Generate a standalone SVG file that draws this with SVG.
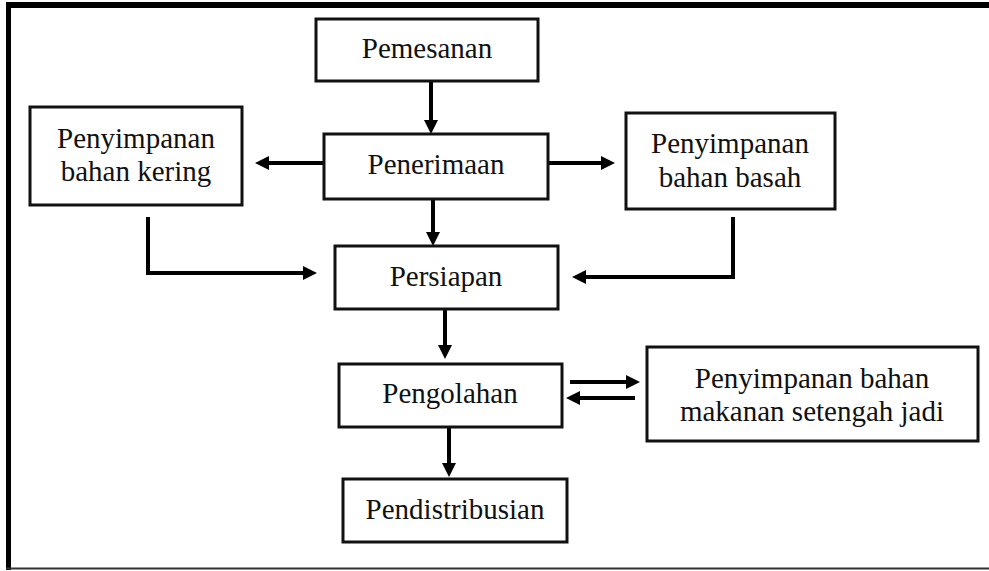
<svg xmlns="http://www.w3.org/2000/svg" width="989" height="571" viewBox="0 0 989 571">
<style>
.box{fill:#fff;stroke:#111;stroke-width:3}
.t{font-family:"Liberation Serif","Times New Roman",serif;font-size:29px;fill:#111;text-anchor:middle}
.c{fill:none;stroke:#000;stroke-width:4}
</style>
<defs>
<marker id="ah" viewBox="0 0 14 14" refX="0" refY="7" markerWidth="14" markerHeight="14" markerUnits="userSpaceOnUse" orient="auto">
<path d="M0,0 L14,7 L0,14 z" fill="#000"/>
</marker>
</defs>
<rect width="989" height="571" fill="#fff"/>
<g id="frame">
<rect x="6" y="2" width="983" height="6" fill="#000"/>
<rect x="6" y="2" width="5" height="568" fill="#000"/>
<line x1="6" y1="568.5" x2="989" y2="568.5" stroke="#333" stroke-width="2"/>
</g>
<g id="connectors">
<path class="c" d="M431 81 V120" marker-end="url(#ah)"/>
<path class="c" d="M324 163 H269" marker-end="url(#ah)"/>
<path class="c" d="M548 163 H601" marker-end="url(#ah)"/>
<path class="c" d="M433 199 V232" marker-end="url(#ah)"/>
<path class="c" d="M148 217 V273 H303" marker-end="url(#ah)"/>
<path class="c" d="M733 217 V277 H586" marker-end="url(#ah)"/>
<path class="c" d="M445 309 V345" marker-end="url(#ah)"/>
<path class="c" d="M570 382 H626" marker-end="url(#ah)"/>
<path class="c" d="M635 398 H580" marker-end="url(#ah)"/>
<path class="c" d="M449 423 V463" marker-end="url(#ah)"/>
</g>
<g id="pemesanan">
<rect class="box" x="316" y="19" width="222" height="62"/>
<text class="t" x="427" y="58">Pemesanan</text>
</g>
<g id="penerimaan">
<rect class="box" x="324" y="134" width="224" height="65"/>
<text class="t" x="436" y="174">Penerimaan</text>
</g>
<g id="kering">
<rect class="box" x="30" y="107" width="212" height="98"/>
<text class="t" x="136" y="148">Penyimpanan</text>
<text class="t" x="136" y="181">bahan kering</text>
</g>
<g id="basah">
<rect class="box" x="626" y="113" width="209" height="96"/>
<text class="t" x="730" y="153">Penyimpanan</text>
<text class="t" x="730" y="187">bahan basah</text>
</g>
<g id="persiapan">
<rect class="box" x="335" y="246" width="223" height="63"/>
<text class="t" x="446" y="286">Persiapan</text>
</g>
<g id="pengolahan">
<rect class="box" x="339" y="364" width="223" height="63"/>
<text class="t" x="450" y="403">Pengolahan</text>
</g>
<g id="setengah">
<rect class="box" x="647" y="347" width="331" height="94"/>
<text class="t" x="812" y="388">Penyimpanan bahan</text>
<text class="t" x="812" y="421">makanan setengah jadi</text>
</g>
<g id="pendistribusian">
<rect class="box" x="343" y="479" width="224" height="63"/>
<text class="t" x="455" y="519">Pendistribusian</text>
</g>
</svg>
